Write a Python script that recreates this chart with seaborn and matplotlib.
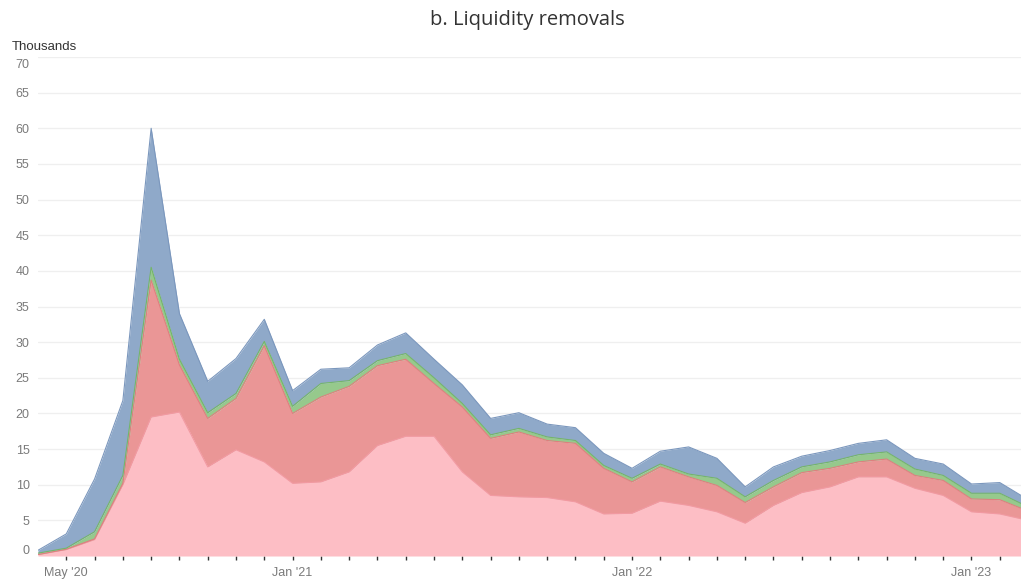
import numpy as np
import pandas as pd
import matplotlib
matplotlib.use("Agg")
import matplotlib.pyplot as plt
import matplotlib.transforms as mtransforms
import seaborn as sns

# monthly observations, Apr 2020 .. Mar 2023 (thousands)
months = pd.date_range("2020-04-01", periods=36, freq="MS")
pink = [0.2, 0.9, 2.3, 10.0, 19.5, 20.2, 12.5, 14.9, 13.2, 10.2, 10.4, 11.8,
        15.5, 16.8, 16.8, 11.8, 8.5, 8.3, 8.2, 7.6, 5.9, 6.0, 7.7, 7.1,
        6.2, 4.6, 7.1, 8.9, 9.7, 11.1, 11.1, 9.5, 8.5, 6.2, 5.9, 5.0]
red = [0.0, 0.05, 0.1, 0.2, 19.2, 6.6, 6.8, 7.2, 16.3, 9.8, 11.9, 12.0,
       11.2, 10.8, 7.4, 9.1, 8.0, 9.1, 8.0, 8.2, 6.4, 4.4, 4.8, 4.0,
       3.7, 2.9, 2.6, 2.8, 2.6, 2.1, 2.5, 1.8, 2.1, 1.8, 2.0, 1.3]
green = [0.2, 0.15, 1.0, 1.1, 1.8, 0.8, 0.8, 0.7, 0.6, 1.0, 1.9, 0.8,
         0.7, 0.8, 0.8, 0.5, 0.5, 0.5, 0.5, 0.4, 0.4, 0.5, 0.4, 0.4,
         1.0, 0.8, 0.9, 0.8, 0.9, 1.0, 1.0, 0.9, 0.7, 0.8, 0.9, 0.6]
blue = [0.4, 2.0, 7.4, 10.5, 19.5, 6.4, 4.4, 4.9, 3.1, 2.2, 2.0, 1.8,
        2.2, 2.9, 2.6, 2.6, 2.3, 2.2, 1.8, 1.8, 1.7, 1.4, 1.8, 3.8,
        2.8, 1.4, 1.9, 1.5, 1.6, 1.6, 1.7, 1.5, 1.6, 1.3, 1.5, 1.0]
tick_labels = {1: "May '20", 9: "Jan '21", 21: "Jan '22", 33: "Jan '23"}

sns.set_style("white")
plt.rcParams['font.family'] = ['Liberation Sans', 'DejaVu Sans']

df = pd.DataFrame({"month": months, "pink": pink, "red": red,
                   "green": green, "blue": blue})
df["x"] = np.arange(len(df))
layers = ["pink", "red", "green", "blue"]
fills = ["#FDBEC5", "#EA9696", "#96C98C", "#8FA9C9"]
edges = ["#F29AA2", "#DE7F7F", "#74B56A", "#7B97BD"]
tops = df[layers].cumsum(axis=1)

fig = plt.figure(figsize=(10.21, 5.84), dpi=100)
ax = fig.add_axes([38 / 1021, 28 / 584, 1 - 38 / 1021, (556 - 57) / 584])

ax.stackplot(df["x"], [df[c] for c in layers], colors=fills, linewidth=0)
for c, ec in zip(layers, edges):
    sns.lineplot(x=df["x"], y=tops[c], color=ec, linewidth=0.8, ax=ax)

ax.set_xlim(0, 34.75)
ax.set_ylim(0, 70)
ax.set_yticks(np.arange(0, 71, 5))
ax.yaxis.grid(True, color="#EFEFEF", linewidth=0.9)
ax.set_axisbelow(True)
ax.set_xticks(np.arange(1, 35))
ax.set_xticklabels([tick_labels.get(i, "") for i in range(1, 35)])
ax.tick_params(axis="x", length=3, width=1, color="#333333", pad=5,
               labelsize=9, labelcolor="#7A7A7A", bottom=True)
ax.tick_params(axis="y", length=0, pad=6, labelsize=9, labelcolor="#7A7A7A")
for s in ax.spines.values():
    s.set_visible(False)
ax.set_xlabel("")
ax.set_ylabel("")

# end labels sit just inside the plot area, as in the original
ylabels = ax.get_yticklabels()
ylabels[0].set_transform(ylabels[0].get_transform() +
                         mtransforms.ScaledTranslation(0, 6 / 100, fig.dpi_scale_trans))
ylabels[-1].set_transform(ylabels[-1].get_transform() +
                          mtransforms.ScaledTranslation(0, -6 / 100, fig.dpi_scale_trans))

fig.text(12 / 1021, 1 - 47 / 584, "Thousands", fontsize=9.5, color="#333333",
         va="center", ha="left")
fig.text(527 / 1021, 1 - 20 / 584, "b. Liquidity removals", fontsize=14.5,
         color="#333333", ha="center", va="center", family=["Open Sans", "DejaVu Sans"])

fig.savefig("out.png", dpi=100)
